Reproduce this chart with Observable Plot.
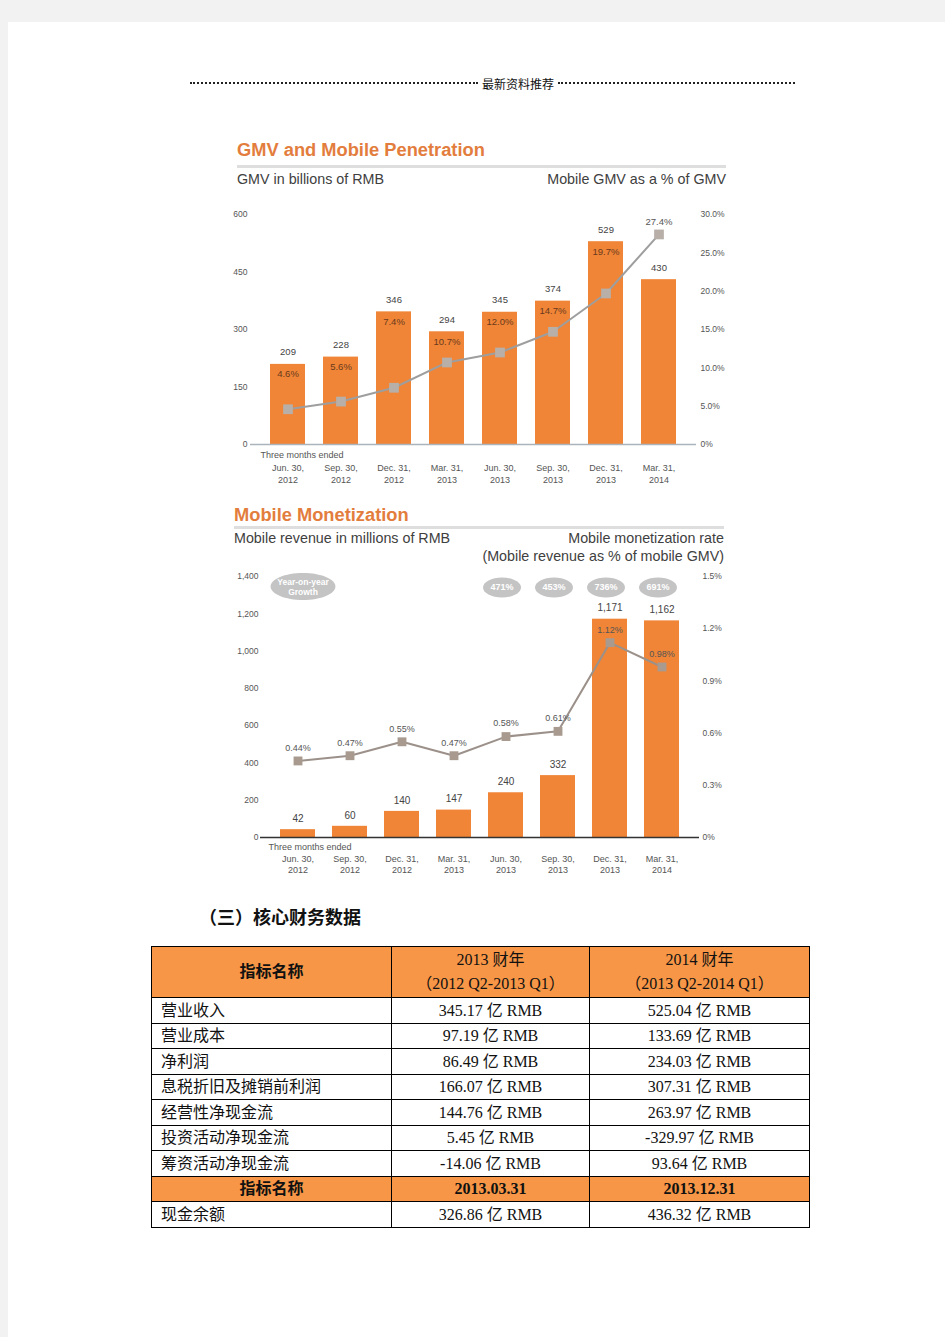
<!DOCTYPE html>
<html><head><meta charset="utf-8">
<script src="https://cdn.jsdelivr.net/npm/d3@7"></script>
<script src="https://cdn.jsdelivr.net/npm/@observablehq/plot@0.6"></script>
<style>
body{margin:0;background:#f2f2f2;width:945px;height:1337px;position:relative;overflow:hidden;font-family:"Liberation Sans",Arial,sans-serif;}
#page{position:absolute;left:8px;top:22px;width:937px;height:1315px;background:#fff;}
.abs{position:absolute;white-space:nowrap;}
.dots{position:absolute;height:0;border-top:2px dotted #222;}
.title{font-size:18.3px;font-weight:bold;color:#e37d3d;line-height:20px;}
.rule{position:absolute;height:3px;background:#dedede;}
.sub{font-size:14.3px;color:#404040;line-height:17px;}
table{border-collapse:collapse;table-layout:fixed;font-family:"Liberation Serif","Noto Sans CJK SC",serif;font-size:16px;color:#111;}
td{border:1px solid #000;padding:0;text-align:center;line-height:24px;white-space:nowrap;}
td.name{text-align:left;padding-left:9px;}
tr.head td{background:#f79646;}
tr.head td.b{font-weight:bold;}
</style></head>
<body>
<div id="page"></div>
<div class="dots" style="left:190px;top:82px;width:288px"></div>
<div class="dots" style="left:558px;top:82px;width:237px"></div>
<div class="abs" style="left:478px;top:76px;width:80px;text-align:center;font:12px/16px 'Noto Sans CJK SC';color:#111">最新资料推荐</div>

<div class="abs title" style="left:237px;top:140px">GMV and Mobile Penetration</div>
<div class="rule" style="left:237px;top:165px;width:489px"></div>
<div class="abs sub" style="left:237px;top:171px">GMV in billions of RMB</div>
<div class="abs sub" style="right:219px;top:171px;text-align:right">Mobile GMV as a % of GMV</div>
<div id="chart1" class="abs" style="left:225px;top:200px"></div>

<div class="abs title" style="left:234px;top:505px">Mobile Monetization</div>
<div class="rule" style="left:234px;top:526px;width:490px"></div>
<div class="abs sub" style="left:234px;top:530px">Mobile revenue in millions of RMB</div>
<div class="abs sub" style="right:221px;top:530px;text-align:right;line-height:17.5px">Mobile monetization rate<br>(Mobile revenue as % of mobile GMV)</div>
<div id="chart2" class="abs" style="left:225px;top:565px"></div>

<div class="abs" style="left:199px;top:907px;font:bold 18px/22px 'Liberation Serif','Noto Sans CJK SC',serif;color:#111">（三）核心财务数据</div>
<div id="tbl" class="abs" style="left:151px;top:946px"></div>

<script>
// ---------- data ----------
const quarters = ["Jun. 30,\n2012","Sep. 30,\n2012","Dec. 31,\n2012","Mar. 31,\n2013","Jun. 30,\n2013","Sep. 30,\n2013","Dec. 31,\n2013","Mar. 31,\n2014"];
const gmv = [209, 228, 346, 294, 345, 374, 529, 430];
const mobileShare = [4.6, 5.6, 7.4, 10.7, 12.0, 14.7, 19.7, 27.4];
const gmvTicks = [0, 150, 300, 450, 600];
const shareTicks = [0, 5, 10, 15, 20, 25, 30];

const mobileRevenue = [42, 60, 140, 147, 240, 332, 1171, 1162];
const monetizationRate = [0.44, 0.47, 0.55, 0.47, 0.58, 0.61, 1.12, 0.98];
const growthQuarters = ["Jun. 30,\n2013","Sep. 30,\n2013","Dec. 31,\n2013","Mar. 31,\n2014"];
const yoyGrowth = [471, 453, 736, 691];
const revenueTicks = [0, 200, 400, 600, 800, 1000, 1200, 1400];
const rateTicks = [0, 0.3, 0.6, 0.9, 1.2, 1.5];

const tableHeader = ["指标名称", "2013 财年\n（2012 Q2-2013 Q1）", "2014 财年\n（2013 Q2-2014 Q1）"];
const metricNames = ["营业收入","营业成本","净利润","息税折旧及摊销前利润","经营性净现金流","投资活动净现金流","筹资活动净现金流"];
const fy2013 = ["345.17","97.19","86.49","166.07","144.76","5.45","-14.06"];
const fy2014 = ["525.04","133.69","234.03","307.31","263.97","-329.97","93.64"];
const balanceHeader = ["指标名称","2013.03.31","2013.12.31"];
const balanceNames = ["现金余额"];
const balance2013 = ["326.86"];
const balance2014 = ["436.32"];
const unit = " 亿 RMB";

// ---------- helpers ----------
const orange = "#f08537";
const font = "Liberation Sans, Arial, sans-serif";
const ellipse = ratio => ({draw(ctx, size){
  const ry = Math.sqrt(size / Math.PI), rx = ry * ratio, k = 0.5523;
  ctx.moveTo(rx, 0);
  ctx.bezierCurveTo(rx, ry*k, rx*k, ry, 0, ry);
  ctx.bezierCurveTo(-rx*k, ry, -rx, ry*k, -rx, 0);
  ctx.bezierCurveTo(-rx, -ry*k, -rx*k, -ry, 0, -ry);
  ctx.bezierCurveTo(rx*k, -ry, rx, -ry*k, rx, 0);
  ctx.closePath();
}});
const pctFmt = (v, digits) => v === 0 ? "0%" : v.toFixed(digits) + "%";

// ---------- chart 1 ----------
const d1 = quarters.map((q, i) => ({q, gmv: gmv[i], share: mobileShare[i]}));
const k1 = gmvTicks[gmvTicks.length-1] / shareTicks[shareTicks.length-1];
const chart1 = Plot.plot({
  width: 510, height: 290, marginTop: 14, marginBottom: 46, marginLeft: 25, marginRight: 39,
  style: {fontFamily: font, fontSize: "8.5px", color: "#555", background: "transparent", overflow: "visible"},
  x: {type: "band", domain: quarters, padding: 0.345, label: null},
  y: {domain: [0, 600], label: null},
  marks: [
    Plot.barY(d1, {x: "q", y: "gmv", fill: orange}),
    Plot.ruleY([0], {stroke: "#aab4ba", strokeWidth: 1.5}),
    Plot.axisY({ticks: gmvTicks, tickSize: 0, tickPadding: 3, label: null}),
    Plot.axisY({anchor: "right", ticks: shareTicks.map(s => s * k1), tickFormat: v => pctFmt(v / k1, 1), tickSize: 0, tickPadding: 4, label: null}),
    Plot.axisX({tickSize: 0, tickPadding: 18, label: null, fontSize: 9, lineHeight: 1.3}),
    Plot.line(d1, {x: "q", y: d => d.share * k1, stroke: "#9e9e9e", strokeWidth: 2}),
    Plot.dot(d1, {x: "q", y: d => d.share * k1, symbol: "square", r: 5.5, fill: "#b8afa8", stroke: "none"}),
    Plot.text(d1, {x: "q", y: "gmv", text: d => String(d.gmv), dy: -12, fill: "#444", fontSize: 9.5}),
    Plot.text(d1.slice(0, 7), {x: "q", y: "gmv", text: d => d.share.toFixed(1) + "%", dy: 10, fill: "#6a3a1c", fontSize: 9.5}),
    Plot.text(d1.slice(7), {x: "q", y: d => d.share * k1, text: d => d.share.toFixed(1) + "%", dy: -12, fill: "#555", fontSize: 9.5}),
    Plot.text(["Three months ended"], {frameAnchor: "bottom-left", dx: 10, dy: 11, textAnchor: "start", lineAnchor: "middle", fill: "#555", fontSize: 9})
  ]
});
document.getElementById("chart1").append(chart1);

// ---------- chart 2 ----------
const d2 = quarters.map((q, i) => ({q, rev: mobileRevenue[i], rate: monetizationRate[i]}));
const g2 = growthQuarters.map((q, i) => ({q, g: yoyGrowth[i]}));
const k2 = revenueTicks[revenueTicks.length-1] / rateTicks[rateTicks.length-1];
const chart2 = Plot.plot({
  width: 510, height: 315, marginTop: 11, marginBottom: 43, marginLeft: 35, marginRight: 36,
  style: {fontFamily: font, fontSize: "8.5px", color: "#555", background: "transparent", overflow: "visible"},
  x: {type: "band", domain: quarters, padding: 0.326, label: null},
  y: {domain: [0, 1400], label: null},
  marks: [
    Plot.barY(d2, {x: "q", y: "rev", fill: orange}),
    Plot.ruleY([0], {stroke: "#333", strokeWidth: 1.5}),
    Plot.axisY({ticks: revenueTicks, tickFormat: d3.format(","), tickSize: 0, tickPadding: 2, label: null}),
    Plot.axisY({anchor: "right", ticks: rateTicks.map(s => s * k2), tickFormat: v => pctFmt(v / k2, 1), tickSize: 0, tickPadding: 3, label: null}),
    Plot.axisX({tickSize: 0, tickPadding: 16, label: null, fontSize: 9, lineHeight: 1.25}),
    Plot.line(d2, {x: "q", y: d => d.rate * k2, stroke: "#9c918a", strokeWidth: 2}),
    Plot.dot(d2, {x: "q", y: d => d.rate * k2, symbol: "square", r: 5, fill: "#a89a8f", stroke: "none"}),
    Plot.text(d2, {x: "q", y: "rev", text: d => d3.format(",")(d.rev), dy: -11, fill: "#444", fontSize: 10}),
    Plot.text(d2, {x: "q", y: d => d.rate * k2, text: d => d.rate.toFixed(2) + "%", dy: -13, fill: "#555", fontSize: 9}),
    Plot.dot(g2, {x: "q", frameAnchor: "top", dx: -4, dy: 11, symbol: ellipse(1.9), r: 10, fill: "#c4c4c4", stroke: "none"}),
    Plot.text(g2, {x: "q", frameAnchor: "top", lineAnchor: "middle", dx: -4, dy: 11, text: d => d.g + "%", fill: "#fff", fontWeight: "bold", fontSize: 9}),
    Plot.dot([quarters[0]], {x: d => d, frameAnchor: "top", dx: 5, dy: 10, symbol: ellipse(2.4), r: 13.5, fill: "#c4c4c4", stroke: "none"}),
    Plot.text([quarters[0]], {x: d => d, frameAnchor: "top", lineAnchor: "middle", dx: 5, dy: 10, text: () => "Year-on-year\nGrowth", fill: "#fff", fontWeight: "bold", fontSize: 8.5, lineHeight: 1.2}),
    Plot.text(["Three months ended"], {frameAnchor: "bottom-left", dx: 8, dy: 10, textAnchor: "start", lineAnchor: "middle", fill: "#555", fontSize: 9})
  ]
});
document.getElementById("chart2").append(chart2);

// ---------- table ----------
const rowHeights = [26,25,26,25,26,25,26];
let html = '<table style="width:658px"><colgroup><col style="width:240px"><col style="width:198px"><col style="width:220px"></colgroup>';
html += '<tr class="head" style="height:51px">' + tableHeader.map((h, i) => `<td class="${i===0?'b':''}">${h.replace("\n","<br>")}</td>`).join("") + '</tr>';
metricNames.forEach((n, i) => {
  html += `<tr style="height:${rowHeights[i]}px"><td class="name">${n}</td><td>${fy2013[i]}${unit}</td><td>${fy2014[i]}${unit}</td></tr>`;
});
html += '<tr class="head" style="height:25px">' + balanceHeader.map(h => `<td class="b">${h}</td>`).join("") + '</tr>';
balanceNames.forEach((n, i) => {
  html += `<tr style="height:26px"><td class="name">${n}</td><td>${balance2013[i]}${unit}</td><td>${balance2014[i]}${unit}</td></tr>`;
});
html += '</table>';
document.getElementById("tbl").innerHTML = html;
</script>
</body></html>
